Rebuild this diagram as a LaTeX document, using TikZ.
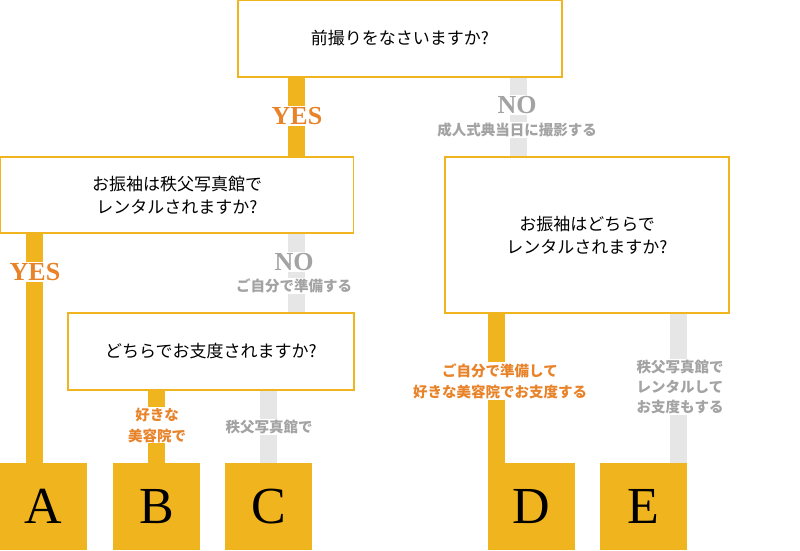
\documentclass[tikz,border=0pt]{standalone}
\usepackage{fontspec}
\newfontfamily\jp{Noto Sans CJK JP}
\setmainfont{Liberation Serif}
\definecolor{gold}{HTML}{F0B41E}
\definecolor{lbl}{HTML}{E8832A}
\definecolor{gbar}{HTML}{E6E6E6}
\definecolor{gtxt}{HTML}{A3A3A3}
\begin{document}
\begin{tikzpicture}[x=1pt,y=-1pt,
  qbox/.style={draw=gold,line width=1.5pt,fill=white,align=center,font=\jp\fontsize{17}{23}\selectfont,inner sep=0pt},
  ans/.style={fill=gold,minimum width=87pt,minimum height=87pt,inner sep=0pt,font=\fontsize{52}{52}\selectfont},
  obar/.style={gold,line width=17pt},
  gbarst/.style={gbar,line width=17pt},
  olab/.style={fill=white,text=lbl,align=center,inner sep=1pt,font=\jp\bfseries\fontsize{14.5}{21}\selectfont},
  glab/.style={fill=white,text=gtxt,align=center,inner sep=1pt,font=\jp\bfseries\fontsize{14.5}{20}\selectfont},
  yes/.style={fill=white,text=lbl,inner sep=1pt,font=\bfseries\fontsize{26}{26}\selectfont},
  no/.style={fill=white,text=gtxt,inner sep=1pt,font=\bfseries\fontsize{26}{26}\selectfont}]
\useasboundingbox (0,0) rectangle (800,550);
% answers
\node[ans] (A) at (43.5,506.5) {A};
\node[ans] (B) at (156.5,506.5) {B};
\node[ans] (C) at (268.5,506.5) {C};
\node[ans] (D) at (531.5,506.5) {D};
\node[ans] (E) at (643.5,506.5) {E};
% coordinates
\coordinate (t1) at (296.5,77); \coordinate (b1) at (296.5,157);
\coordinate (t2) at (518,77); \coordinate (b2) at (518,157);
\coordinate (t3) at (34.5,233);
\coordinate (t4) at (296.5,233); \coordinate (b4) at (296.5,313);
\coordinate (t5) at (156.5,390);
\coordinate (t6) at (268.5,390);
\coordinate (t7) at (496.5,313); \coordinate (b7) at (496.5,463);
\coordinate (t8) at (678.5,313); \coordinate (b8) at (678.5,463);
\coordinate (b3) at (34.5,463);
% bars
\draw[obar] (t1) -- (b1);
\draw[gbarst] (t2) -- (b2);
\draw[obar] (t3) -- (b3);
\draw[gbarst] (t4) -- (b4);
\draw[obar] (t5) -- (B.north);
\draw[gbarst] (t6) -- (C.north);
\draw[obar] (t7) -- (b7);
\draw[gbarst] (t8) -- (b8);
% boxes
\node[qbox,minimum width=324pt,minimum height=77pt] (q1) at (400,38.5) {前撮りをなさいますか?};
\node[qbox,minimum width=353pt,minimum height=76pt] (q2) at (177,195) {お振袖は秩父写真館で\\レンタルされますか?};
\node[qbox,minimum width=286pt,minimum height=77pt] (q3) at (211,351.5) {どちらでお支度されますか?};
\node[qbox,minimum width=284pt,minimum height=156pt] (q4) at (587,235) {お振袖はどちらで\\レンタルされますか?};
% labels
\node[yes] (y1) at (297,116) {YES};
\node[no] (n1) at (517,105) {NO};
\node[glab] (n1b) at (517,130) {成人式典当日に撮影する};
\node[yes] (y2) at (35,272) {YES};
\node[no] (n2) at (294,262) {NO};
\node[glab] (n2b) at (294,286) {ご自分で準備する};
\node[olab] (l5) at (157,425) {好きな\\美容院で};
\node[glab] (l6) at (269,427) {秩父写真館で};
\node[olab] (l7) at (500,381) {ご自分で準備して\\好きな美容院でお支度する};
\node[glab] (l8) at (680,387) {秩父写真館で\\レンタルして\\お支度もする};
\end{tikzpicture}
\end{document}
